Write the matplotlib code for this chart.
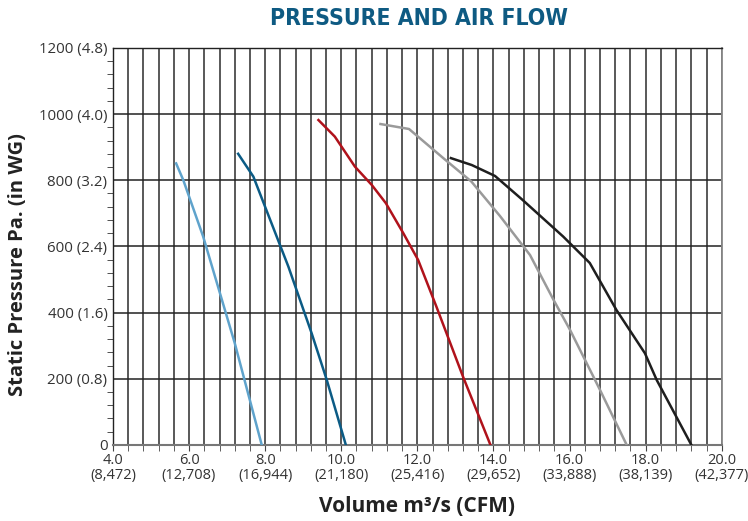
import matplotlib
matplotlib.use("Agg")
import matplotlib.pyplot as plt
import numpy as np

# ---- data ----
x_ticks = [4.0, 6.0, 8.0, 10.0, 12.0, 14.0, 16.0, 18.0, 20.0]
x_tick_labels = ["4.0\n(8,472)", "6.0\n(12,708)", "8.0\n(16,944)", "10.0\n(21,180)",
                 "12.0\n(25,416)", "14.0\n(29,652)", "16.0\n(33,888)", "18.0\n(38,139)",
                 "20.0\n(42,377)"]
y_ticks = [0, 200, 400, 600, 800, 1000, 1200]
y_tick_labels = ["0", "200 (0.8)", "400 (1.6)", "600 (2.4)", "800 (3.2)", "1000 (4.0)", "1200 (4.8)"]

s1_x = [5.66, 5.85, 6.37, 7.20, 7.91]
s1_y = [851, 800, 630, 308, 0]
s2_x = [7.29, 7.69, 8.61, 9.22, 9.62, 10.12]
s2_y = [880, 811, 539, 338, 196, 0]
s3_x = [9.40, 9.83, 10.36, 10.80, 11.17, 11.63, 12.02, 12.50, 13.20, 13.92]
s3_y = [982, 932, 841, 786, 731, 640, 559, 418, 206, 0]
s4_x = [11.03, 11.78, 12.68, 13.42, 14.17, 14.96, 15.58, 16.01, 16.80, 17.50]
s4_y = [970, 955, 867, 796, 692, 574, 438, 348, 166, 0]
s5_x = [12.88, 13.43, 14.04, 14.77, 15.83, 16.53, 17.23, 17.98, 18.29, 19.20]
s5_y = [867, 846, 813, 740, 630, 550, 408, 277, 196, 0]

series = [(s1_x, s1_y, "#5fa3cc"), (s2_x, s2_y, "#0b5b85"), (s3_x, s3_y, "#b0121b"),
          (s4_x, s4_y, "#9a9a9a"), (s5_x, s5_y, "#1e1e1e")]

plt.rcParams['font.family'] = ['Open Sans', 'DejaVu Sans']

fig = plt.figure(figsize=(7.48, 5.21), dpi=100)
ax = fig.add_axes([0.151, 0.146, 0.814, 0.762])

ax.set_xlim(4.0, 20.0)
ax.set_ylim(0, 1200)

# grid
for xv in np.arange(4.4, 20.01, 0.4):
    ax.axvline(xv, color="#3c3c3c", lw=1.2, zorder=1)
for yv in y_ticks[1:]:
    ax.axhline(yv, color="#222222", lw=1.1, zorder=1)

for xs, ys, c in series:
    ax.plot(xs, ys, color=c, lw=1.8, zorder=3, solid_joinstyle="round")

ax.set_xticks(np.arange(4.0, 20.01, 0.4), minor=True)
ax.set_xticks(x_ticks)
ax.set_xticklabels(x_tick_labels, fontsize=10.5, color="#333333", linespacing=1.0)
ax.set_yticks(y_ticks)
ax.set_yticklabels(y_tick_labels, fontsize=10.8, color="#333333")
ax.set_yticks(np.arange(0, 1201, 40), minor=True)
ax.tick_params(axis="x", which="both", direction="out", length=4, color="#444444", pad=2)
ax.tick_params(axis="y", which="major", direction="out", length=0, pad=4)
ax.tick_params(axis="y", which="minor", direction="out", length=4, color="#333333")

for side in ["top", "left"]:
    ax.spines[side].set_color("#222222")
    ax.spines[side].set_linewidth(1.0)
ax.spines["bottom"].set_color("#777777")
ax.spines["bottom"].set_linewidth(1.5)
ax.spines["right"].set_color("#888888")
ax.spines["right"].set_linewidth(1.3)

ax.set_xlabel("Volume m³/s (CFM)", fontsize=15, fontweight="bold", color="#222222", labelpad=9)
fig.text(18 / 748, 1 - 265 / 521, "Static Pressure Pa. (in WG)", rotation=90,
         ha="center", va="center", fontsize=14.5, fontweight="bold", color="#222222")

fig.text(419 / 748, 0.965, "PRESSURE AND AIR FLOW", ha="center", va="center",
         fontsize=16.5, fontweight="bold", color="#0e5a82",
         family="DejaVu Sans", fontstretch="condensed")

fig.savefig("out.png", dpi=100)
